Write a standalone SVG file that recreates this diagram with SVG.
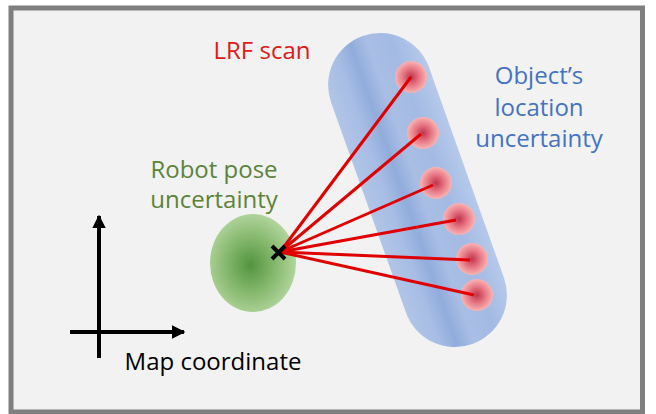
<svg xmlns="http://www.w3.org/2000/svg" width="656" height="414" viewBox="0 0 656 414">
<defs>
<linearGradient id="blueG" x1="0" y1="0" x2="1" y2="0">
<stop offset="0" stop-color="#b2c5e8"/>
<stop offset="0.2" stop-color="#a7bde4"/>
<stop offset="0.36" stop-color="#91acdc"/>
<stop offset="0.52" stop-color="#a9bee4"/>
<stop offset="0.75" stop-color="#a3bae3"/>
<stop offset="1" stop-color="#b6c9ea"/>
</linearGradient>
<radialGradient id="greenG" cx="0.47" cy="0.52" r="0.55">
<stop offset="0" stop-color="#529440"/>
<stop offset="0.5" stop-color="#84b76c"/>
<stop offset="1" stop-color="#b5d7a0"/>
</radialGradient>
<radialGradient id="redG" cx="0.5" cy="0.5" r="0.5">
<stop offset="0" stop-color="#c0344e"/>
<stop offset="0.55" stop-color="#e87a86"/>
<stop offset="1" stop-color="#f8b4b4"/>
</radialGradient>
<marker id="arr" viewBox="0 0 10 10" refX="9" refY="5" markerWidth="3.4" markerHeight="3.4" orient="auto" markerUnits="strokeWidth">
<path d="M0,0 L10,5 L0,10 Z" fill="#000"/>
</marker>
</defs>
<style>
.lbl{font-family:"Open Sans","Liberation Sans",sans-serif;font-size:24px;text-anchor:middle}
.scan{stroke:#e00000;stroke-width:3;fill:none}
.dot{fill:url(#redG)}
.axis{stroke:#000;stroke-width:4;fill:none}
</style>
<rect x="11" y="8" width="631.5" height="404" fill="#f2f2f2" stroke="#7f7f7f" stroke-width="5"/>
<g id="object-uncertainty">
<rect x="365.5" y="26.5" width="104" height="327" rx="52" ry="52" fill="url(#blueG)" transform="rotate(-19.6 417.5 190)"/>
</g>
<g id="robot-pose">
<ellipse cx="253" cy="263" rx="43" ry="49" fill="url(#greenG)"/>
</g>
<g id="scan-points">
<circle class="dot" cx="411" cy="77" r="16"/>
<circle class="dot" cx="423" cy="133" r="16"/>
<circle class="dot" cx="436" cy="183" r="16"/>
<circle class="dot" cx="459" cy="219" r="16"/>
<circle class="dot" cx="472" cy="259" r="16"/>
<circle class="dot" cx="477" cy="295" r="16"/>
</g>
<g id="connectors">
<line class="scan" x1="280" y1="252" x2="411" y2="77"/>
<line class="scan" x1="280" y1="252" x2="421" y2="134"/>
<line class="scan" x1="280" y1="252" x2="433" y2="185"/>
<line class="scan" x1="280" y1="252" x2="456" y2="220"/>
<line class="scan" x1="280" y1="252" x2="470" y2="260"/>
<line class="scan" x1="280" y1="252" x2="474" y2="295"/>
</g>
<g id="robot-x">
<path d="M272,246 L285,259 M285,246 L272,259" stroke="#000" stroke-width="4" fill="none"/>
</g>
<g id="map-axes">
<line class="axis" x1="99" y1="358" x2="99" y2="216" marker-end="url(#arr)"/>
<line class="axis" x1="70" y1="332" x2="184" y2="332" marker-end="url(#arr)"/>
</g>
<g id="labels">
<text class="lbl" x="262" y="59" fill="#e01a1a">LRF scan</text>
<text class="lbl" x="214" y="178" fill="#5b833a">Robot pose</text>
<text class="lbl" x="214" y="208" fill="#5b833a">uncertainty</text>
<text class="lbl" x="539" y="84" fill="#4472c4">Object’s</text>
<text class="lbl" x="539" y="116" fill="#4472c4">location</text>
<text class="lbl" x="539" y="147" fill="#4472c4">uncertainty</text>
<text class="lbl" x="213" y="370" fill="#000">Map coordinate</text>
</g>
</svg>
